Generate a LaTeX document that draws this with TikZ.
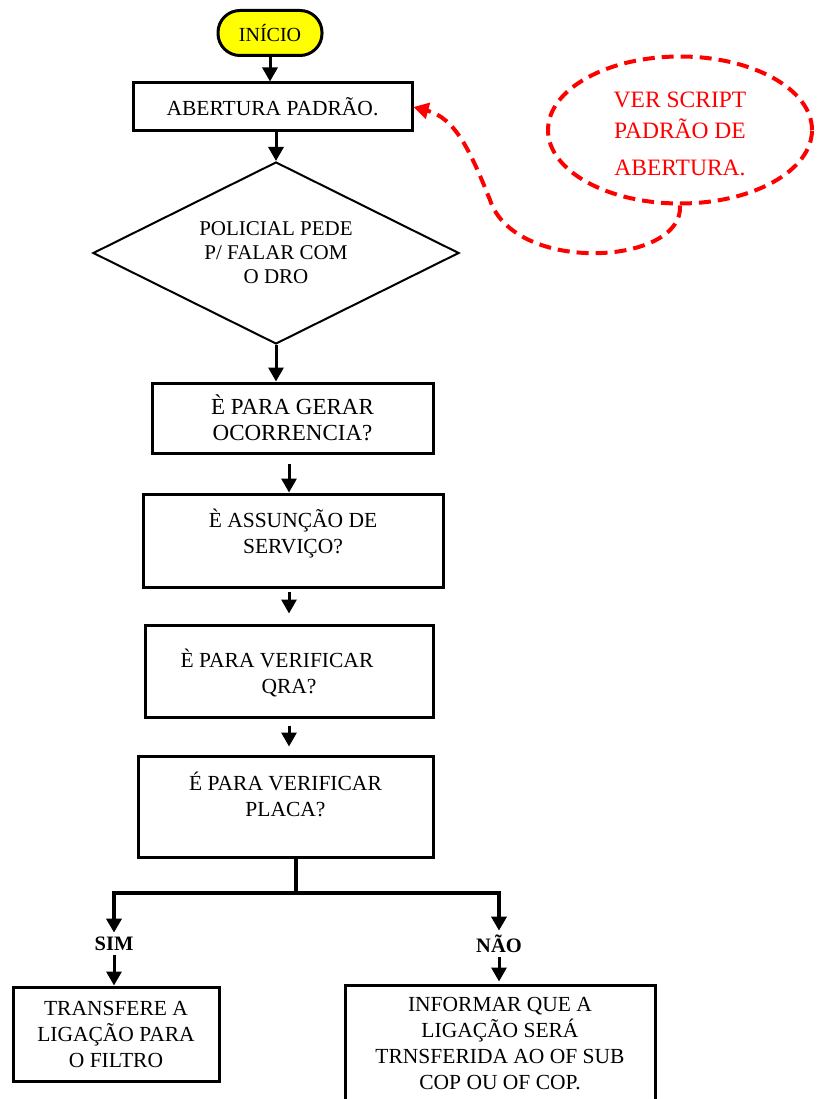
\documentclass[tikz,border=0pt]{standalone}
\usepackage{fontspec}
\setmainfont{Liberation Serif}
\usetikzlibrary{arrows.meta, positioning, shapes.geometric, calc}
\definecolor{cred}{HTML}{FF0000}
\definecolor{cyellow}{HTML}{FFFF00}
\tikzset{
  every picture/.style={x=1pt, y=-1pt, line width=3pt},
  txt/.style={font=\fontsize{21.5}{26}\selectfont, align=center},
  box/.style={draw, rectangle, txt, inner sep=4pt},
  startbox/.style={draw, fill=cyellow, rounded corners=22pt, minimum width=104pt, minimum height=45pt, font=\fontsize{20}{22}\selectfont},
  decision/.style={draw, diamond, aspect=2, line width=2pt, txt, font=\fontsize{21}{24}\selectfont, minimum width=366pt, minimum height=182pt, inner sep=0pt},
  note/.style={draw=cred, ellipse, line width=4pt, dash pattern=on 12pt off 7pt, text=cred, align=center, font=\fontsize{23.5}{31}\selectfont, minimum width=264pt, minimum height=147pt, inner sep=0pt},
  flow/.style={-{Triangle[length=14pt, width=15pt]}, line width=3pt},
  noteflow/.style={-{Triangle[length=15pt, width=16pt]}, draw=cred, line width=4pt, dash pattern=on 12pt off 7pt},
  answer/.style={font=\bfseries\fontsize{20.5}{24}\selectfont, inner sep=3pt},
}

\begin{document}
\begin{tikzpicture}
  % page frame
  \useasboundingbox (0,0) rectangle (816,1099);
  % main column, top to bottom
  \node[startbox] (start) at (270,33) {INÍCIO};
  \node[box, minimum width=279pt, minimum height=48pt] (open) at (272.5,107) {ABERTURA PADRÃO.};
  \node[decision] (ask) at (276,253) {POLICIAL PEDE\\P/ FALAR COM\\O DRO};
  \node[box, minimum width=281pt, minimum height=70pt, font=\fontsize{23}{26}\selectfont] (gerar) at (292.5,418) {È PARA GERAR\\OCORRENCIA?};
  \node[box, minimum width=300pt, minimum height=93pt, text depth=18pt] (servico) at (293,540.5) {È ASSUNÇÃO DE\\SERVIÇO?};
  \node[box, minimum width=288pt, minimum height=92pt, text depth=0pt] (qra) at (289,671) {È PARA VERIFICAR\hspace*{24pt}\\QRA?};
  \node[box, minimum width=295pt, minimum height=101pt, text depth=25pt] (placa) at (285.5,806.5) {É PARA VERIFICAR\\PLACA?};
  % the two answers
  \coordinate (split) at (296,893);
  \node[answer] (sim) at (114,944) {SIM};
  \node[answer] (nao) at (499,944) {NÃO};
  \node[box, minimum width=206pt, minimum height=94pt] (filtro) at (116,1034) {TRANSFERE A\\LIGAÇÃO PARA\\O FILTRO};
  \node[box, minimum width=310pt, minimum height=135pt, text depth=18pt] (cop) at (500,1052.5) {INFORMAR QUE A\\LIGAÇÃO SERÁ\\TRNSFERIDA AO OF SUB\\COP OU OF COP.};
  % side note
  \node[note] (script) at (680,130) {\rule{0pt}{24pt}VER SCRIPT\\PADRÃO DE\\[6pt]ABERTURA.};

  \draw[flow] (start.south) -- (start.south |- open.north);
  \draw[flow] (open.south -| ask.north) -- (ask.north);
  \draw[flow] (ask.south) -- (ask.south |- gerar.north);
  \draw[flow, shorten <=9pt] (gerar.south -| qra.north) -- (servico.north -| qra.north);
  \draw[flow, shorten <=3pt, shorten >=10pt] (servico.south -| qra.north) -- (qra.north);
  \draw[flow, shorten <=7pt, shorten >=8pt] (qra.south) -- (qra.south |- placa.north);
  \draw[line width=3.5pt] (placa.south -| split) -- (split);
  \draw[flow, line width=3.5pt] (split) -| (sim.north);
  \draw[flow, line width=3.5pt] (split) -| (nao.north);
  \draw[flow] (sim.south) -- (sim.south |- filtro.north);
  \draw[flow, shorten >=2pt] (nao.south) -- (nao.south |- cop.north);
  % dashed pointer from the note
  \coordinate (bend) at (490,200);
  \draw[noteflow] (script.south) .. controls (684,265) and (515,275) .. (bend)
    .. controls (470,150) and (455,118) .. (open.east);
\end{tikzpicture}
\end{document}
